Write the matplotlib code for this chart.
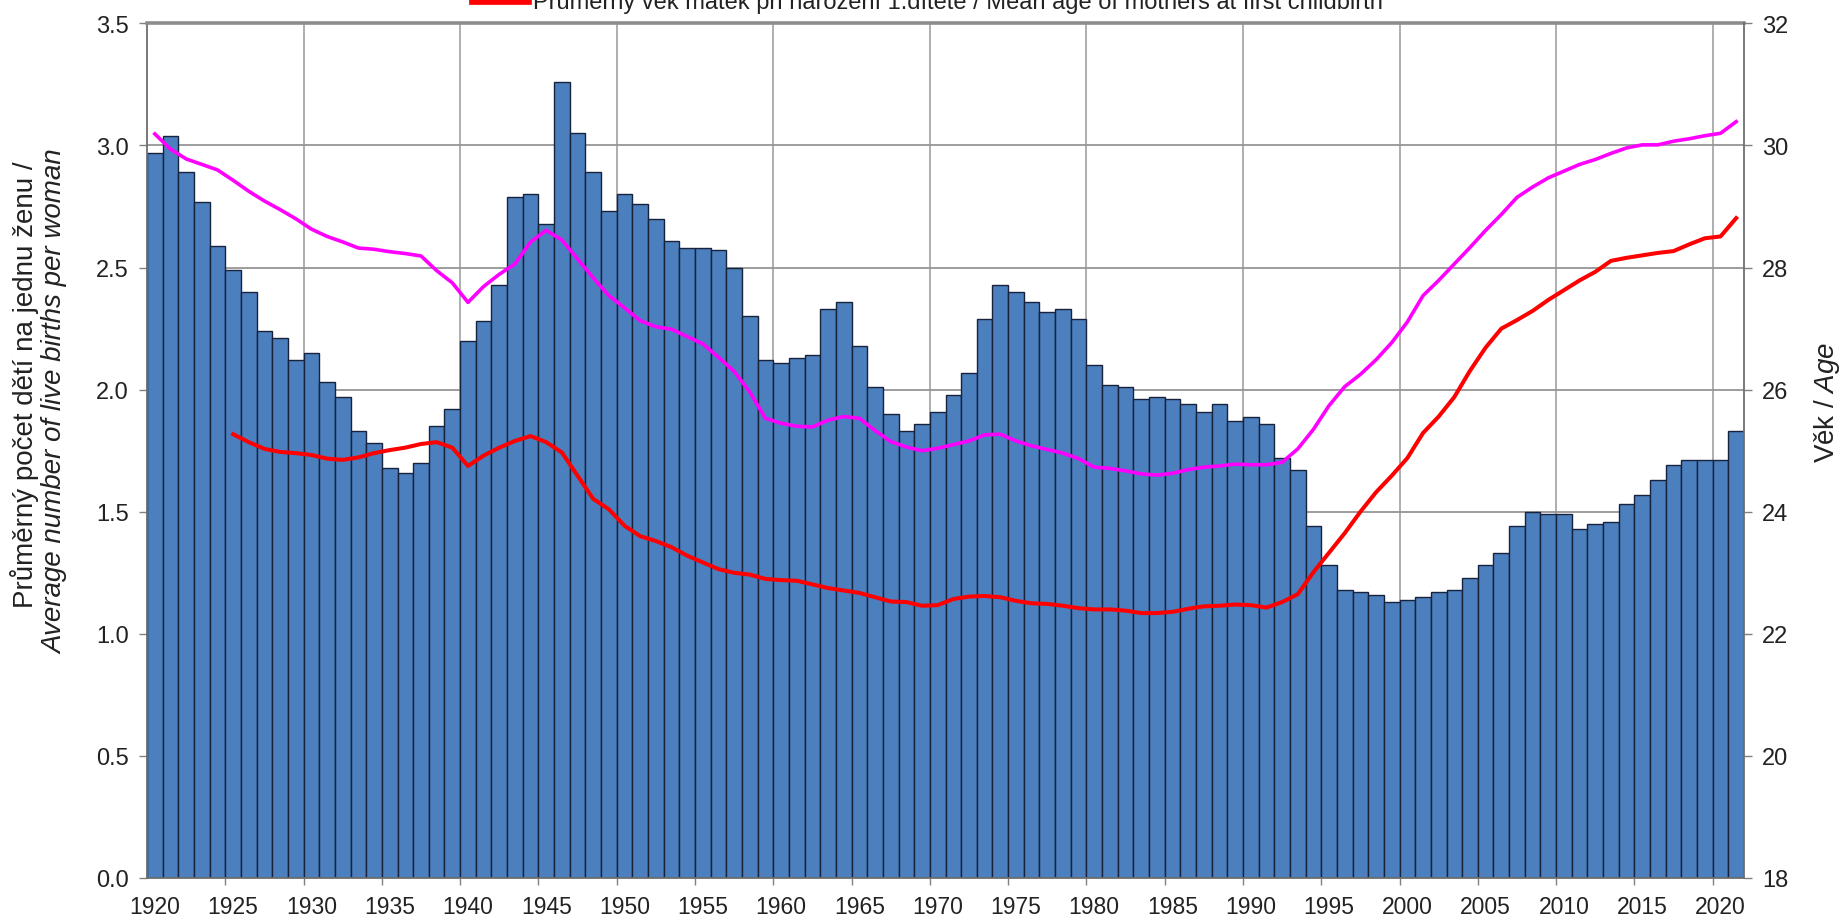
import numpy as np
import matplotlib
matplotlib.use("Agg")
import matplotlib.pyplot as plt
from matplotlib.lines import Line2D

plt.rcParams['font.family'] = ['Liberation Sans', 'DejaVu Sans']
plt.rcParams['mathtext.fontset'] = 'custom'
plt.rcParams['mathtext.rm'] = 'Liberation Sans'
plt.rcParams['mathtext.it'] = 'Liberation Sans:italic'

# ---------------- data ----------------
years = list(range(1920, 2022))

tfr = [2.97, 3.04, 2.89, 2.77, 2.59, 2.49, 2.40, 2.24, 2.21, 2.12,
       2.15, 2.03, 1.97, 1.83, 1.78, 1.68, 1.66, 1.70, 1.85, 1.92,
       2.20, 2.28, 2.43, 2.79, 2.80, 2.68, 3.26, 3.05, 2.89, 2.73,
       2.80, 2.76, 2.70, 2.61, 2.58, 2.58, 2.57, 2.50, 2.30, 2.12,
       2.11, 2.13, 2.14, 2.33, 2.36, 2.18, 2.01, 1.90, 1.83, 1.86,
       1.91, 1.98, 2.07, 2.29, 2.43, 2.40, 2.36, 2.32, 2.33, 2.29,
       2.10, 2.02, 2.01, 1.96, 1.97, 1.96, 1.94, 1.91, 1.94, 1.87,
       1.89, 1.86, 1.72, 1.67, 1.44, 1.28, 1.18, 1.17, 1.16, 1.13,
       1.14, 1.15, 1.17, 1.18, 1.23, 1.28, 1.33, 1.44, 1.50, 1.49,
       1.49, 1.43, 1.45, 1.46, 1.53, 1.57, 1.63, 1.69, 1.71, 1.71,
       1.71, 1.83]

age_all = [30.19, 29.94, 29.78, 29.69, 29.60, 29.43, 29.25, 29.09, 28.95, 28.80,
           28.63, 28.51, 28.42, 28.32, 28.30, 28.26, 28.23, 28.19, 27.95, 27.75,
           27.43, 27.69, 27.89, 28.06, 28.42, 28.61, 28.45, 28.14, 27.83, 27.54,
           27.34, 27.13, 27.03, 26.99, 26.87, 26.75, 26.53, 26.30, 25.96, 25.53,
           25.45, 25.40, 25.39, 25.50, 25.56, 25.53, 25.33, 25.15, 25.06, 25.00,
           25.04, 25.10, 25.16, 25.26, 25.27, 25.16, 25.08, 25.02, 24.96, 24.87,
           24.73, 24.71, 24.67, 24.62, 24.60, 24.63, 24.69, 24.73, 24.75, 24.78,
           24.77, 24.77, 24.81, 25.03, 25.35, 25.74, 26.05, 26.25, 26.49, 26.77,
           27.11, 27.54, 27.79, 28.06, 28.33, 28.61, 28.87, 29.15, 29.32, 29.47,
           29.58, 29.69, 29.77, 29.87, 29.96, 30.01, 30.01, 30.07, 30.11, 30.16,
           30.20, 30.39]

first_years = list(range(1925, 2022))
age_first = [25.27, 25.14, 25.03, 24.98, 24.96,
             24.93, 24.87, 24.85, 24.89, 24.96, 25.01, 25.05, 25.11, 25.14, 25.05,
             24.75, 24.92, 25.05, 25.16, 25.24, 25.14, 24.97, 24.59, 24.21, 24.04,
             23.77, 23.60, 23.52, 23.42, 23.28, 23.17, 23.06, 23.00, 22.97, 22.90,
             22.88, 22.87, 22.81, 22.75, 22.71, 22.67, 22.60, 22.53, 22.52, 22.46,
             22.47, 22.57, 22.61, 22.62, 22.60, 22.54, 22.50, 22.49, 22.46, 22.42,
             22.40, 22.40, 22.38, 22.34, 22.34, 22.36, 22.41, 22.45, 22.46, 22.48,
             22.47, 22.43, 22.52, 22.65, 23.01, 23.33, 23.65, 24.00, 24.32, 24.59,
             24.88, 25.29, 25.56, 25.88, 26.31, 26.69, 27.00, 27.14, 27.29, 27.47,
             27.63, 27.79, 27.93, 28.11, 28.16, 28.20, 28.24, 28.27, 28.38, 28.48,
             28.51, 28.81]

label_years = list(range(1920, 2021, 5))
left_ticks = [0.0, 0.5, 1.0, 1.5, 2.0, 2.5, 3.0, 3.5]
right_ticks = [18, 20, 22, 24, 26, 28, 30, 32]

legend_label = "Průměrný věk matek při narození 1.dítěte / Mean age of mothers at first childbirth"
ylabel_cz = "Průměrný počet dětí na jednu ženu /"
ylabel_en = "Average number of live births per woman"
ylabel_right = r"Věk / $\mathit{Age}$"

TXT = '#222222'

# ---------------- figure ----------------
fig = plt.figure(figsize=(18.45, 9.2), dpi=100)
ax = fig.add_axes([147/1845, 1-879/920, (1744-147)/1845, (879-24.4)/920])

ax.bar(years, tfr, width=1.0, color='#4B7FBD', edgecolor='#17233C',
       linewidth=1.0, zorder=2)

ax.set_xlim(years[0] - 0.5, years[-1] + 0.5)
ax.set_ylim(left_ticks[0], left_ticks[-1])
ax.set_yticks(left_ticks)
ax.set_yticklabels([f"{t:.1f}" for t in left_ticks])

# grid
ax.set_axisbelow(True)
ax.yaxis.grid(True, color='#959595', linewidth=1.3, zorder=0)
for xb in np.arange(years[0] + 9.5, years[-1] + 0.5, 10):
    ax.axvline(xb, color='#A8A8A8', linewidth=1.3, zorder=0)

ax.set_xticks(label_years)
ax.set_xticklabels([str(y) for y in label_years])
ax.tick_params(axis='x', which='major', length=0, pad=12.5, labelsize=16.5, labelcolor=TXT)
ax.set_xticks(np.arange(years[0] + 4.5, years[-1] + 0.5, 5), minor=True)
ax.tick_params(axis='x', which='minor', length=5, width=1.0, color='#808080', direction='out')
ax.tick_params(axis='y', length=6, width=1.0, color='#808080', pad=7, labelsize=17,
               labelcolor=TXT)

for s in ['left', 'bottom']:
    ax.spines[s].set_color('#6E6E6E')
    ax.spines[s].set_linewidth(1.3)
ax.spines['top'].set_color('#8C8C8C')
ax.spines['top'].set_linewidth(2.6)
ax.spines['right'].set_visible(False)

ax2 = ax.twinx()
ax2.set_ylim(right_ticks[0], right_ticks[-1])
ax2.set_yticks(right_ticks)
ax2.tick_params(axis='y', length=6, width=1.0, color='#808080', pad=7, labelsize=17,
                labelcolor=TXT)
for s in ['left', 'top', 'bottom']:
    ax2.spines[s].set_visible(False)
ax2.spines['right'].set_color('#6E6E6E')
ax2.spines['right'].set_linewidth(1.3)

ax2.plot(years, age_all, color='#FF00FF', linewidth=2.6, solid_joinstyle='round', zorder=3)
red_line, = ax2.plot(first_years, age_first, color='#FF0000', linewidth=2.9,
                     solid_joinstyle='round', zorder=4)

# axis titles
fig.text(25/1845, 1 - 385/920, ylabel_cz, rotation=90, ha='center', va='center',
         fontsize=20, color=TXT)
fig.text(55/1845, 1 - 402/920, ylabel_en, rotation=90, ha='center', va='center',
         fontsize=20, color=TXT, style='italic')
fig.text(1827/1845, 1 - 402/920, ylabel_right, rotation=90, ha='center', va='center',
         fontsize=20, color=TXT)

# legend (top, partly outside the figure as in the reference)
handle = Line2D([], [], color=red_line.get_color(), linewidth=7)
fig.legend([handle], [legend_label], loc='center', bbox_to_anchor=(928/1845, 1.0 - 1.5/920),
           frameon=False, fontsize=17, handlelength=2.25, handletextpad=0.25,
           labelcolor=TXT, borderpad=0)

fig.savefig("out.png", dpi=100)
